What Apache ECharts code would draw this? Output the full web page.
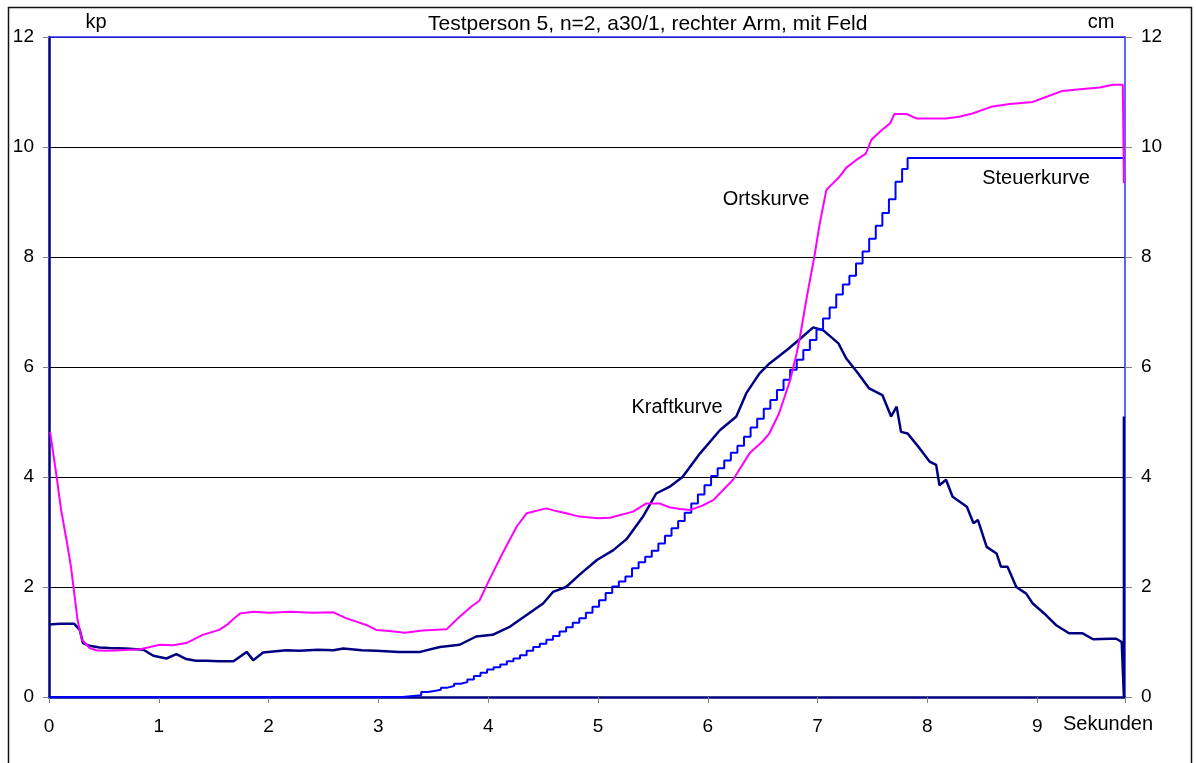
<!DOCTYPE html>
<html>
<head>
<meta charset="utf-8">
<script src="https://cdn.jsdelivr.net/npm/echarts@6/dist/echarts.min.js"></script>
<style>
  html, body { margin: 0; padding: 0; background: #fff; }
  #chart { width: 1196px; height: 763px; }
</style>
</head>
<body>
<div id="chart"></div>
<script>
// Messung: Testperson 5, rechter Arm, mit Feld — Zeit in Sekunden
const titleText = 'Testperson 5, n=2, a30/1, rechter Arm, mit Feld';
const xTicks = [0, 1, 2, 3, 4, 5, 6, 7, 8, 9];
const yTicks = [0, 2, 4, 6, 8, 10, 12];
const tEnd = 9.8;

// Ortskurve [Sekunden, cm]
const ortskurve = [
  [0.01, 4.82], [0.07, 4.00], [0.11, 3.40], [0.16, 2.85], [0.20, 2.37], [0.23, 1.89],
  [0.26, 1.40], [0.30, 1.04], [0.37, 0.89], [0.43, 0.85], [0.52, 0.84], [0.65, 0.85],
  [0.83, 0.87], [1.01, 0.95], [1.13, 0.94], [1.25, 0.98], [1.40, 1.13], [1.55, 1.22],
  [1.62, 1.31], [1.68, 1.42], [1.74, 1.52], [1.86, 1.55], [2.00, 1.53], [2.20, 1.55],
  [2.40, 1.53], [2.59, 1.54], [2.71, 1.43], [2.80, 1.37], [2.89, 1.31], [2.98, 1.22],
  [3.10, 1.20], [3.24, 1.17], [3.40, 1.21], [3.62, 1.23], [3.74, 1.46], [3.85, 1.65],
  [3.92, 1.75], [4.01, 2.13], [4.13, 2.61], [4.26, 3.10], [4.35, 3.34], [4.53, 3.43],
  [4.62, 3.38], [4.71, 3.34], [4.83, 3.28], [5.00, 3.25], [5.11, 3.26], [5.32, 3.37],
  [5.44, 3.52], [5.56, 3.52], [5.65, 3.45], [5.75, 3.42], [5.84, 3.40], [5.95, 3.48],
  [6.05, 3.58], [6.23, 3.95], [6.38, 4.43], [6.50, 4.65], [6.56, 4.79], [6.65, 5.16],
  [6.75, 5.76], [6.81, 6.25], [6.84, 6.55], [6.90, 7.25], [6.97, 8.00], [7.02, 8.61],
  [7.08, 9.22], [7.20, 9.46], [7.26, 9.62], [7.35, 9.76], [7.44, 9.88], [7.49, 10.13],
  [7.58, 10.30], [7.66, 10.43], [7.70, 10.60], [7.81, 10.60], [7.90, 10.52], [8.17, 10.52],
  [8.29, 10.55], [8.41, 10.61], [8.58, 10.73], [8.75, 10.78], [8.96, 10.82], [9.08, 10.91],
  [9.23, 11.02], [9.39, 11.05], [9.57, 11.08], [9.69, 11.13], [9.78, 11.13], [9.79, 9.34]
];

// Steuerkurve [Sekunden, cm] — Treppenstufen
const steuerkurve = [
  [0.00, 0.00], [3.22, 0.03], [3.39, 0.09], [3.45, 0.11], [3.51, 0.13], [3.57, 0.17],
  [3.63, 0.20], [3.69, 0.24], [3.75, 0.27], [3.81, 0.32], [3.87, 0.38], [3.93, 0.44],
  [3.99, 0.50], [4.05, 0.54], [4.11, 0.59], [4.17, 0.65], [4.23, 0.70], [4.29, 0.76],
  [4.35, 0.84], [4.41, 0.91], [4.47, 0.97], [4.53, 1.04], [4.59, 1.11], [4.65, 1.19],
  [4.71, 1.27], [4.77, 1.35], [4.83, 1.43], [4.89, 1.53], [4.95, 1.64], [5.01, 1.76],
  [5.07, 1.89], [5.13, 2.01], [5.19, 2.10], [5.25, 2.19], [5.31, 2.34], [5.37, 2.45],
  [5.43, 2.55], [5.49, 2.66], [5.55, 2.79], [5.61, 2.93], [5.67, 3.07], [5.73, 3.20],
  [5.79, 3.35], [5.85, 3.52], [5.91, 3.68], [5.97, 3.85], [6.03, 4.02], [6.09, 4.16],
  [6.15, 4.30], [6.21, 4.44], [6.27, 4.57], [6.33, 4.73], [6.39, 4.90], [6.45, 5.06],
  [6.51, 5.24], [6.57, 5.40], [6.63, 5.58], [6.69, 5.77], [6.75, 5.95], [6.81, 6.13],
  [6.87, 6.31], [6.93, 6.49], [6.99, 6.68], [7.05, 6.88], [7.11, 7.08], [7.17, 7.32],
  [7.23, 7.50], [7.29, 7.66], [7.35, 7.88], [7.41, 8.10], [7.47, 8.33], [7.53, 8.57],
  [7.59, 8.80], [7.65, 9.05], [7.71, 9.37], [7.77, 9.60], [7.82, 9.80], [9.80, 9.80]
];

// Kraftkurve [Sekunden, kp]
const kraftkurve = [
  [0.00, 1.32], [0.10, 1.33], [0.23, 1.33], [0.28, 1.22], [0.31, 0.98], [0.37, 0.93],
  [0.46, 0.90], [0.55, 0.89], [0.70, 0.88], [0.86, 0.86], [0.95, 0.75], [1.07, 0.70],
  [1.16, 0.78], [1.25, 0.69], [1.34, 0.66], [1.43, 0.66], [1.55, 0.65], [1.68, 0.65],
  [1.80, 0.82], [1.86, 0.67], [1.95, 0.81], [2.16, 0.85], [2.28, 0.84], [2.45, 0.86],
  [2.59, 0.85], [2.68, 0.88], [2.85, 0.85], [2.98, 0.84], [3.19, 0.82], [3.38, 0.82],
  [3.56, 0.91], [3.74, 0.95], [3.89, 1.10], [4.04, 1.13], [4.20, 1.28], [4.35, 1.49],
  [4.50, 1.70], [4.59, 1.91], [4.71, 2.00], [4.83, 2.22], [4.99, 2.49], [5.14, 2.67],
  [5.26, 2.87], [5.41, 3.28], [5.53, 3.70], [5.65, 3.82], [5.77, 4.00], [5.93, 4.43],
  [6.11, 4.85], [6.26, 5.10], [6.35, 5.52], [6.47, 5.88], [6.56, 6.06], [6.72, 6.31],
  [6.84, 6.51], [6.96, 6.72], [7.05, 6.67], [7.19, 6.43], [7.26, 6.16], [7.37, 5.88],
  [7.47, 5.61], [7.59, 5.49], [7.67, 5.10], [7.72, 5.28], [7.76, 4.82], [7.82, 4.79],
  [7.93, 4.52], [8.02, 4.28], [8.08, 4.22], [8.11, 3.85], [8.17, 3.95], [8.23, 3.64],
  [8.36, 3.46], [8.42, 3.16], [8.46, 3.22], [8.54, 2.73], [8.63, 2.61], [8.67, 2.37],
  [8.73, 2.37], [8.81, 2.00], [8.90, 1.88], [8.96, 1.70], [9.08, 1.49], [9.17, 1.31],
  [9.29, 1.16], [9.41, 1.16], [9.51, 1.05], [9.66, 1.06], [9.72, 1.06], [9.77, 1.00],
  [9.79, 0.00], [9.79, 5.10]
];

// Beschriftungen der Kurven, verankert in Datenkoordinaten [Sekunden, Wert]
const curveLabels = [
  { text: 'Ortskurve', at: [6.53, 9.05] },
  { text: 'Steuerkurve', at: [8.99, 9.42] },
  { text: 'Kraftkurve', at: [5.72, 5.27] }
];

const FONT = '"Liberation Sans", Arial, sans-serif';
const NAVY = '#000080';
const BLUE = '#0000ff';
const PINK = '#ff00ff';

const chart = echarts.init(document.getElementById('chart'), null, { renderer: 'canvas' });

const intLabel = v => (xTicks.indexOf(v) >= 0 ? String(v) : '');

chart.setOption({
  backgroundColor: '#ffffff',
  animation: false,
  title: {
    text: titleText,
    left: 428,
    top: 14,
    padding: 0,
    textStyle: { fontFamily: FONT, fontSize: 21, fontWeight: 'normal', color: '#000' }
  },
  grid: { left: 49, right: 71, top: 37, bottom: 66, containLabel: false },
  xAxis: [
    {
      type: 'value', min: 0, max: tEnd, interval: 1, position: 'bottom',
      axisLine: { show: true, lineStyle: { color: NAVY, width: 2.5 } },
      axisTick: { show: true, inside: false, length: 6, lineStyle: { color: '#808080', width: 1 } },
      axisLabel: { fontFamily: FONT, fontSize: 19, color: '#000', margin: 20, formatter: intLabel },
      splitLine: { show: false }
    },
    {
      type: 'value', min: 0, max: tEnd, position: 'top',
      axisLine: { show: true, onZero: false, lineStyle: { color: '#2f2fff', width: 1.5 } },
      axisTick: { show: false }, axisLabel: { show: false }, splitLine: { show: false }
    }
  ],
  yAxis: [
    {
      type: 'value', min: 0, max: 12, interval: 2, position: 'left',
      axisLine: { show: true, onZero: false, lineStyle: { color: NAVY, width: 2.5 } },
      axisTick: { show: true, inside: false, length: 6, lineStyle: { color: '#808080', width: 1 } },
      axisLabel: { fontFamily: FONT, fontSize: 19, color: '#000', margin: 15,
        formatter: v => (yTicks.indexOf(v) >= 0 ? String(v) : '') },
      splitLine: { show: true, lineStyle: { color: '#000', width: 1 } }
    },
    {
      type: 'value', min: 0, max: 12, interval: 2, position: 'right',
      axisLine: { show: true, onZero: false, lineStyle: { color: '#2f2fff', width: 1.5 } },
      axisTick: { show: true, inside: false, length: 7, lineStyle: { color: '#808080', width: 1 } },
      axisLabel: { fontFamily: FONT, fontSize: 19, color: '#000', margin: 16,
        formatter: v => (yTicks.indexOf(v) >= 0 ? String(v) : '') },
      splitLine: { show: false }
    }
  ],
  series: [
    {
      name: 'Kraftkurve', type: 'line', xAxisIndex: 0, yAxisIndex: 0,
      data: kraftkurve, showSymbol: false, z: 3,
      lineStyle: { color: NAVY, width: 2.5 }
    },
    {
      name: 'Steuerkurve', type: 'line', xAxisIndex: 0, yAxisIndex: 1,
      data: steuerkurve, step: 'end', showSymbol: false, z: 4,
      lineStyle: { color: BLUE, width: 2 }
    },
    {
      name: 'Ortskurve', type: 'line', xAxisIndex: 0, yAxisIndex: 1,
      data: ortskurve, showSymbol: false, z: 5,
      lineStyle: { color: PINK, width: 2 }
    }
  ]
});

// Einheiten, Achsentitel, Rahmen und Kurvenbeschriftungen
const txt = (text, x, y, align) => ({
  type: 'text', x: x, y: y, z: 10,
  style: { text: text, fill: '#000', font: '20px ' + FONT, textAlign: align || 'center', textVerticalAlign: 'middle' }
});

const graphics = [
  { type: 'rect', z: 0, shape: { x: 8.5, y: 7.5, width: 1183, height: 800 },
    style: { fill: 'none', stroke: '#111', lineWidth: 1.5 } },
  txt('kp', 96, 22),
  txt('cm', 1101, 22),
  txt('Sekunden', 1108, 724)
];
curveLabels.forEach(l => {
  const p = chart.convertToPixel({ xAxisIndex: 0, yAxisIndex: 1 }, l.at);
  graphics.push(txt(l.text, p[0], p[1]));
});
chart.setOption({ graphic: graphics });
</script>
</body>
</html>
